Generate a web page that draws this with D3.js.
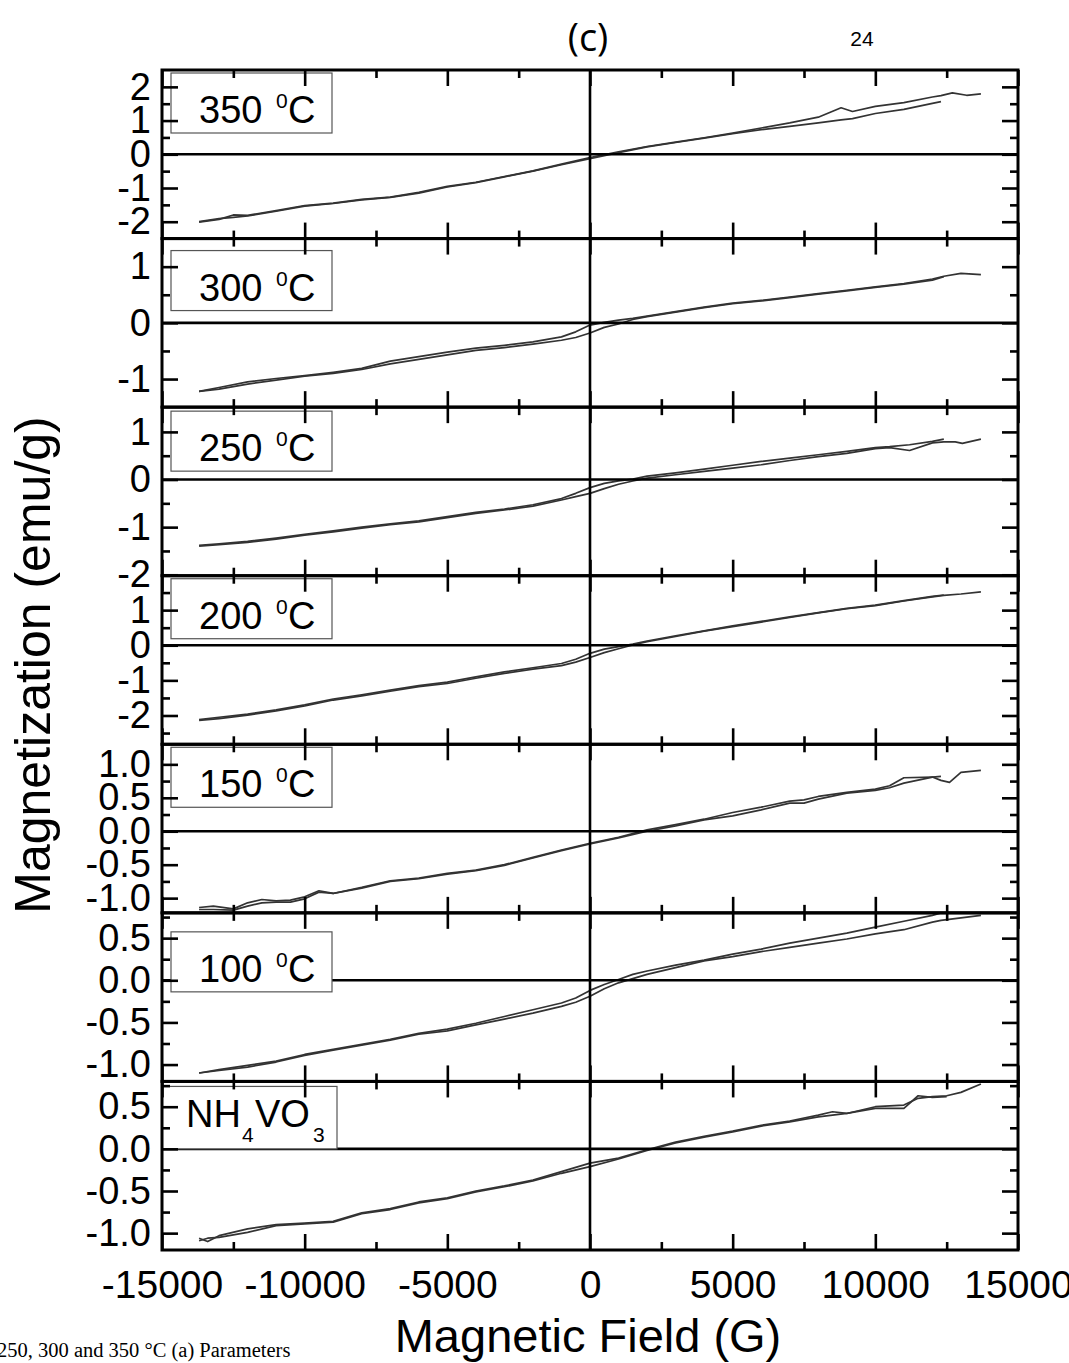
<!DOCTYPE html>
<html>
<head>
<meta charset="utf-8">
<script src="https://cdn.jsdelivr.net/npm/d3@7"></script>
<style>
  html, body { margin: 0; padding: 0; background: #fff; }
  svg { display: block; }
</style>
</head>
<body>
<svg id="chart" width="1069" height="1363" font-family="Liberation Sans, Arial, sans-serif"></svg>
<script>
// ---------------- DATA ----------------
const panelNames = ["350", "300", "250", "200", "150", "100", "NH4VO3"];
const xTickValues = [-15000, -10000, -5000, 0, 5000, 10000, 15000];
const xTickLabels = ["-15000", "-10000", "-5000", "0", "5000", "10000", "15000"];
const xMinorTicks = [-12500, -7500, -2500, 2500, 7500, 12500];

// 350 °C
const field350 = [-13700,-13000,-12500,-12000,-11000,-10000,-9000,-8000,-7000,-6000,-5000,-4000,-3000,-2000,-1000,0,1000,2000,3000,4000,5000,6000,7000,8000,8800,9200,10000,11000,12000,12300,12700,13200,13700];
const m350a = [-2.01,-1.93,-1.80,-1.81,-1.67,-1.52,-1.45,-1.34,-1.27,-1.13,-0.95,-0.83,-0.66,-0.49,-0.29,-0.10,0.07,0.23,0.36,0.49,0.63,0.78,0.93,1.10,1.38,1.27,1.42,1.53,1.70,1.74,1.82,1.75,1.79];
const m350b = [-2.00,-1.91,-1.87,-1.83,-1.69,-1.54,-1.46,-1.35,-1.28,-1.15,-0.97,-0.84,-0.67,-0.50,-0.31,-0.13,0.05,0.22,0.35,0.48,0.61,0.73,0.83,0.93,1.02,1.06,1.21,1.33,1.51,1.56,null,null,null];

// 300 °C
const field300 = [-13700,-13000,-12000,-11000,-10000,-9000,-8000,-7000,-6000,-5000,-4000,-3000,-2000,-1000,-500,0,500,1000,1500,2000,3000,4000,5000,6000,7000,8000,9000,10000,11000,12000,12400,13000,13700];
const m300a = [-1.22,-1.15,-1.05,-0.99,-0.94,-0.88,-0.81,-0.68,-0.60,-0.52,-0.45,-0.40,-0.34,-0.25,-0.16,-0.04,0.01,0.05,0.08,0.12,0.20,0.28,0.35,0.40,0.46,0.52,0.58,0.64,0.70,0.78,0.83,0.88,0.86];
const m300b = [-1.22,-1.18,-1.09,-1.02,-0.95,-0.90,-0.83,-0.73,-0.65,-0.57,-0.49,-0.44,-0.38,-0.31,-0.26,-0.18,-0.08,-0.02,0.06,0.11,0.19,0.27,0.34,0.39,0.45,0.51,0.57,0.63,0.69,0.76,0.82,null,null];

// 250 °C
const field250 = [-13700,-13000,-12000,-11000,-10000,-9000,-8000,-7000,-6000,-5000,-4000,-3000,-2000,-1000,-500,0,500,1000,1500,2000,3000,4000,5000,6000,7000,8000,9000,10000,10500,11200,12000,12400,12800,13050,13700];
const m250a = [-1.38,-1.35,-1.30,-1.23,-1.15,-1.08,-1.00,-0.93,-0.87,-0.78,-0.69,-0.62,-0.53,-0.40,-0.29,-0.17,-0.08,-0.03,0.01,0.07,0.14,0.22,0.30,0.38,0.45,0.52,0.59,0.67,0.69,0.73,0.80,0.85,null,null,null];
const m250b = [-1.40,-1.37,-1.32,-1.25,-1.17,-1.10,-1.02,-0.95,-0.89,-0.80,-0.71,-0.64,-0.56,-0.43,-0.36,-0.29,-0.19,-0.10,-0.03,0.03,0.10,0.17,0.24,0.31,0.40,0.48,0.55,0.65,0.67,0.61,0.77,0.79,0.79,0.76,0.85];

// 200 °C
const field200 = [-13700,-13000,-12000,-11000,-10000,-9000,-8000,-7000,-6000,-5000,-4000,-3000,-2000,-1000,-500,0,500,1000,1500,2000,3000,4000,5000,6000,7000,8000,9000,10000,11000,12000,12400,13000,13700];
const m200a = [-2.12,-2.05,-1.96,-1.84,-1.70,-1.53,-1.41,-1.28,-1.15,-1.05,-0.90,-0.76,-0.64,-0.52,-0.40,-0.23,-0.11,-0.04,0.03,0.12,0.27,0.41,0.55,0.68,0.81,0.93,1.05,1.14,1.27,1.39,1.43,null,null];
const m200b = [-2.14,-2.09,-1.99,-1.87,-1.73,-1.56,-1.44,-1.31,-1.18,-1.09,-0.94,-0.80,-0.68,-0.58,-0.48,-0.35,-0.21,-0.10,0.01,0.10,0.25,0.40,0.53,0.66,0.79,0.92,1.04,1.13,1.26,1.38,1.42,1.46,1.52];

// 150 °C
const field150 = [-13700,-13200,-12500,-12000,-11500,-11000,-10500,-10000,-9500,-9000,-8000,-7000,-6000,-5000,-4000,-3000,-2000,-1000,0,1000,2000,3000,4000,5000,6000,7000,7500,8000,9000,10000,10500,11000,12000,12300,12600,13000,13700];
const m150a = [-1.14,-1.12,-1.16,-1.07,-1.02,-1.04,-1.03,-0.98,-0.89,-0.93,-0.84,-0.74,-0.70,-0.63,-0.58,-0.50,-0.39,-0.28,-0.18,-0.09,0.02,0.10,0.18,0.28,0.36,0.45,0.47,0.52,0.58,0.63,0.68,0.80,0.81,0.76,0.73,0.88,0.91];
const m150b = [-1.17,-1.17,-1.18,-1.12,-1.07,-1.06,-1.06,-1.01,-0.91,-0.93,-0.85,-0.75,-0.71,-0.64,-0.59,-0.51,-0.40,-0.29,-0.19,-0.10,0.00,0.08,0.17,0.23,0.32,0.42,0.42,0.48,0.57,0.61,0.65,0.72,0.81,0.82,null,null,null];

// 100 °C
const field100 = [-13700,-13000,-12000,-11000,-10000,-9000,-8000,-7000,-6000,-5000,-4000,-3000,-2000,-1000,-500,0,500,1000,1500,2000,3000,4000,5000,6000,7000,8000,9000,10000,11000,12000,12300,13000,13700];
const m100a = [-1.10,-1.06,-1.01,-0.96,-0.88,-0.82,-0.76,-0.70,-0.63,-0.58,-0.51,-0.43,-0.35,-0.27,-0.21,-0.12,-0.05,0.01,0.07,0.11,0.18,0.24,0.31,0.37,0.44,0.50,0.56,0.63,0.70,0.77,0.80,null,null];
const m100b = [-1.10,-1.07,-1.03,-0.97,-0.89,-0.83,-0.77,-0.71,-0.64,-0.60,-0.53,-0.46,-0.39,-0.31,-0.26,-0.19,-0.10,-0.03,0.02,0.07,0.15,0.23,0.28,0.34,0.39,0.44,0.49,0.55,0.60,0.69,0.71,0.74,0.77];

// NH4VO3
const fieldNH = [-13700,-13400,-13000,-12000,-11000,-10000,-9000,-8000,-7000,-6000,-5000,-4000,-3000,-2000,-1000,0,1000,2000,3000,4000,5000,6000,7000,8000,8500,9000,10000,11000,11500,12000,12500,13000,13700];
const mNHa = [-1.06,-1.10,-1.03,-0.95,-0.90,-0.88,-0.86,-0.76,-0.71,-0.63,-0.58,-0.50,-0.44,-0.37,-0.27,-0.17,-0.11,-0.01,0.08,0.15,0.21,0.28,0.33,0.40,0.44,0.42,0.50,0.52,0.60,0.62,0.63,0.67,0.77];
const mNHb = [-1.09,-1.06,-1.05,-0.99,-0.91,-0.89,-0.87,-0.77,-0.72,-0.64,-0.59,-0.51,-0.45,-0.38,-0.29,-0.21,-0.12,-0.02,0.07,0.14,0.20,0.27,0.32,0.38,0.40,0.42,0.48,0.48,0.63,0.61,0.62,null,null];

// y domains and ticks per panel
const yDomains = [[-2.5, 2.5], [-1.5, 1.5], [-2.02, 1.52], [-2.82, 1.98], [-1.22, 1.30], [-1.2, 0.8], [-1.2, 0.8]];
const yMajor = [[-2,-1,0,1,2], [-1,0,1], [-2,-1,0,1], [-2,-1,0,1], [-1,-0.5,0,0.5,1], [-1,-0.5,0,0.5], [-1,-0.5,0,0.5]];
const yLabels = [["-2","-1","0","1","2"], ["-1","0","1"], ["-2","-1","0","1"], ["-2","-1","0","1"],
                 ["-1.0","-0.5","0.0","0.5","1.0"], ["-1.0","-0.5","0.0","0.5"], ["-1.0","-0.5","0.0","0.5"]];
const yMinor = [[-1.5,-0.5,0.5,1.5], [-0.5,0.5], [-1.5,-0.5,0.5], [-2.5,-1.5,-0.5,0.5,1.5],
                [-0.75,-0.25,0.25,0.75], [-0.75,-0.25,0.25,0.75], [-0.75,-0.25,0.25,0.75]];

const fields = [field350, field300, field250, field200, field150, field100, fieldNH];
const branchA = [m350a, m300a, m250a, m200a, m150a, m100a, mNHa];
const branchB = [m350b, m300b, m250b, m200b, m150b, m100b, mNHb];

// ---------------- LAYOUT ----------------
const X0 = 162, X1 = 1018, TOP = 70, BOT = 1250;
const nP = panelNames.length;
const pH = (BOT - TOP) / nP;
const boxOffsets = [3, 12, 4, 3, 3, 19, 5];
const SANS = "Liberation Sans, Arial, sans-serif";

const svg = d3.select("#chart");
const x = d3.scaleLinear().domain([-15000, 15000]).range([X0, X1]);

const line = (ys) => d3.line()
  .defined((d, i) => ys[i] != null)
  .x(d => x(d))
  .y((d, i) => ys[i]);

for (let i = 0; i < nP; i++) {
  const g = svg.append("g").attr("transform", `translate(0,${TOP + i * pH})`);
  const y = d3.scaleLinear().domain(yDomains[i]).range([pH, 0]);

  // curves
  [branchA[i], branchB[i]].forEach(vals => {
    const ys = vals.map(v => v == null ? null : y(v));
    g.append("path")
      .attr("d", line(ys)(fields[i]))
      .attr("fill", "none")
      .attr("stroke", "#333")
      .attr("stroke-width", 1.7)
      .attr("stroke-linejoin", "round");
  });

  // zero line
  g.append("line")
    .attr("x1", X0).attr("x2", X1)
    .attr("y1", y(0)).attr("y2", y(0))
    .attr("stroke", "#000").attr("stroke-width", 2.6);

  // legend box (under the ticks)
  const bt = boxOffsets[i];
  if (panelNames[i] === "NH4VO3") {
    g.append("rect").attr("x", X0).attr("y", bt).attr("width", 175).attr("height", y(0) - bt)
      .attr("fill", "#fff").attr("stroke", "#555").attr("stroke-width", 1.2);
    const t = g.append("text").attr("y", bt + 41).attr("font-size", 38);
    t.append("tspan").attr("x", 186).text("NH");
    t.append("tspan").attr("x", 242).attr("dy", 15).attr("font-size", 21).text("4");
    t.append("tspan").attr("x", 255).attr("dy", -15).text("VO");
    t.append("tspan").attr("x", 313).attr("dy", 15).attr("font-size", 21).text("3");
  } else {
    g.append("rect").attr("x", 171).attr("y", bt).attr("width", 161).attr("height", 60)
      .attr("fill", "#fff").attr("stroke", "#555").attr("stroke-width", 1.2);
    const t = g.append("text").attr("y", bt + 50).attr("font-size", 38);
    t.append("tspan").attr("x", 199).text(panelNames[i]);
    t.append("tspan").attr("x", 276).attr("dy", -15).attr("font-size", 21).text("0");
    t.append("tspan").attr("x", 288).attr("dy", 15).text("C");
  }

  const mkX = (axisFn, size, vals) => axisFn(x).tickValues(vals).tickSize(size).tickFormat("");
  const styleAxis = sel => { sel.select(".domain").remove(); sel.selectAll(".tick line").attr("stroke", "#000").attr("stroke-width", 2.6); };

  g.append("g").call(mkX(d3.axisTop, -16, xTickValues)).call(styleAxis);
  g.append("g").call(mkX(d3.axisTop, -8, xMinorTicks)).call(styleAxis);
  g.append("g").attr("transform", `translate(0,${pH})`).call(mkX(d3.axisBottom, -16, xTickValues)).call(styleAxis);
  g.append("g").attr("transform", `translate(0,${pH})`).call(mkX(d3.axisBottom, -8, xMinorTicks)).call(styleAxis);

  const lab = yLabels[i], maj = yMajor[i];
  const left = g.append("g").attr("transform", `translate(${X0},0)`)
    .call(d3.axisLeft(y).tickValues(maj).tickSize(-16).tickPadding(11)
      .tickFormat(v => lab[maj.indexOf(v)]))
    .call(styleAxis);
  left.attr("font-family", SANS).attr("font-size", 38);
  left.selectAll("text").attr("fill", "#000");
  g.append("g").attr("transform", `translate(${X0},0)`)
    .call(d3.axisLeft(y).tickValues(yMinor[i]).tickSize(-8).tickFormat("")).call(styleAxis);
  g.append("g").attr("transform", `translate(${X1},0)`)
    .call(d3.axisRight(y).tickValues(maj).tickSize(-16).tickFormat("")).call(styleAxis);
  g.append("g").attr("transform", `translate(${X1},0)`)
    .call(d3.axisRight(y).tickValues(yMinor[i]).tickSize(-8).tickFormat("")).call(styleAxis);

  if (i === nP - 1) {
    const bx = g.append("g").attr("transform", `translate(0,${pH})`)
      .call(d3.axisBottom(x).tickValues(xTickValues).tickSize(0).tickPadding(20)
        .tickFormat(v => xTickLabels[xTickValues.indexOf(v)]));
    bx.select(".domain").remove();
    bx.attr("font-family", SANS).attr("font-size", 39);
    bx.selectAll("text").attr("fill", "#000");
  }
}

svg.append("line").attr("x1", x(0)).attr("x2", x(0)).attr("y1", TOP).attr("y2", BOT)
  .attr("stroke", "#000").attr("stroke-width", 2.6);

for (let i = 0; i < nP; i++) {
  svg.append("rect").attr("x", X0).attr("y", TOP + i * pH).attr("width", X1 - X0).attr("height", pH)
    .attr("fill", "none").attr("stroke", "#000").attr("stroke-width", 3);
}

svg.append("text").attr("x", 588).attr("y", 1352).attr("text-anchor", "middle")
  .attr("font-size", 47).text("Magnetic Field (G)");
svg.append("text").attr("transform", "translate(50,665) rotate(-90)").attr("text-anchor", "middle")
  .attr("font-size", 50).text("Magnetization (emu/g)");

svg.append("text").attr("x", 588).attr("y", 51).attr("text-anchor", "middle")
  .attr("font-family", "Open Sans, sans-serif").attr("font-size", 38).text("(c)");
svg.append("text").attr("x", 862).attr("y", 46).attr("text-anchor", "middle")
  .attr("font-size", 21).text("24");
svg.append("text").attr("x", -3).attr("y", 1357)
  .attr("font-family", "Liberation Serif, Times New Roman, serif").attr("font-size", 20.5).text("250, 300 and 350 °C (a) Parameters");
</script>
</body>
</html>
